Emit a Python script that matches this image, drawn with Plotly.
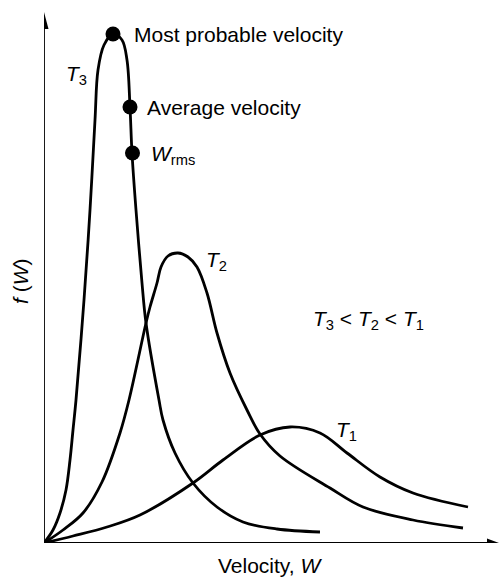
import plotly.graph_objects as go

# Curve samples (velocity W, distribution f(W)), arbitrary units
t3_w = [0, 9, 16, 22, 26, 29, 32, 40, 46, 51, 54, 60, 69, 78, 83, 86, 88, 92, 98, 102, 115, 119, 131, 149, 173, 199, 233, 276]
t3_f = [0, 13, 30, 53, 83, 113, 143, 243, 333, 423, 473, 498, 509, 503, 483, 436, 390, 333, 260, 220, 143, 123, 90, 60, 36, 21, 14, 11]

t2_w = [0, 19, 39, 58, 76, 85, 102, 106, 113, 117, 124, 134, 144, 153, 163, 173, 186, 203, 216, 236, 286, 319, 369, 419]
t2_f = [0, 13, 30, 61, 110, 143, 220, 236, 260, 276, 287, 290, 286, 276, 250, 210, 170, 133, 109, 87, 55, 36, 23, 15]

t1_w = [0, 29, 63, 96, 149, 179, 216, 246, 276, 303, 336, 369, 424]
t1_f = [0, 7, 16, 28, 60, 83, 108, 116, 110, 90, 66, 50, 36]

# Characteristic velocities on the T3 curve
pt_w = [69, 86, 88.5]
pt_f = [509, 436, 390]
pt_labels = ["Most probable velocity", "Average velocity", "<i>W</i><sub>rms</sub>"]

FONT = "Liberation Sans, Arial, Helvetica, sans-serif"
FS = 21
LW = 2.8

fig = go.Figure()
for w, f in [(t3_w, t3_f), (t2_w, t2_f), (t1_w, t1_f)]:
    fig.add_trace(go.Scatter(x=w, y=f, mode="lines",
                             line=dict(color="black", width=LW, shape="spline", smoothing=1.0),
                             hoverinfo="skip", showlegend=False))

fig.add_trace(go.Scatter(x=pt_w, y=pt_f, mode="markers",
                         marker=dict(color="black", size=15),
                         hoverinfo="skip", showlegend=False, cliponaxis=False))

annos = []
offs = [(19, 0), (15, 0), (16, -2)]
for w, f, t, (dx, dy) in zip(pt_w, pt_f, pt_labels, offs):
    annos.append(dict(x=w, y=f, text=t, showarrow=False, xanchor="left", yanchor="middle",
                      xshift=dx, yshift=dy, font=dict(family=FONT, size=FS, color="black")))

curve_labels = [
    (20, 472, "<i>T</i><sub>3</sub>"),
    (160, 286, "<i>T</i><sub>2</sub>"),
    (290, 116, "<i>T</i><sub>1</sub>"),
]
for x, y, t in curve_labels:
    annos.append(dict(x=x, y=y, text=t, showarrow=False, xanchor="left", yanchor="middle",
                      yshift=-4, font=dict(family=FONT, size=FS, color="black")))

annos.append(dict(x=267, y=227, text="<i>T</i><sub>3</sub> &lt; <i>T</i><sub>2</sub> &lt; <i>T</i><sub>1</sub>",
                  showarrow=False, xanchor="left", yanchor="middle", yshift=-4,
                  font=dict(family=FONT, size=FS, color="black")))

annos.append(dict(xref="paper", yref="paper", x=(270 - 44) / 455, y=-22 / 543,
                  text="Velocity, <i>W</i>", showarrow=False, xanchor="center", yanchor="middle",
                  font=dict(family=FONT, size=FS, color="black")))
annos.append(dict(xref="paper", yref="paper", x=(20 - 44) / 455, y=(543 - 281) / 543,
                  text="<i>f</i> (<i>W</i>)", showarrow=False, textangle=-90,
                  xanchor="center", yanchor="middle",
                  font=dict(family=FONT, size=FS, color="black")))

shapes = [
    dict(type="line", x0=0, y0=0, x1=0, y1=516, line=dict(color="black", width=1.8), layer="below"),
    dict(type="line", x0=0, y0=0, x1=446, y1=0, line=dict(color="black", width=1.8), layer="below"),
    dict(type="path", path="M -4.5,514 L 4.5,514 L 0,531 Z", fillcolor="black", line=dict(width=0)),
    dict(type="path", path="M 443,-4.5 L 443,4.5 L 455,0 Z", fillcolor="black", line=dict(width=0)),
]

fig.update_layout(
    width=499, height=577,
    margin=dict(l=44, r=0, t=0, b=34),
    paper_bgcolor="white", plot_bgcolor="white",
    xaxis=dict(range=[0, 455], visible=False, fixedrange=True),
    yaxis=dict(range=[0, 543], visible=False, fixedrange=True),
    annotations=annos, shapes=shapes,
    showlegend=False,
)

fig.write_html("out.html",
               config={"displayModeBar": False},
               post_script="document.body.style.margin='0';document.body.style.overflow='hidden';")
